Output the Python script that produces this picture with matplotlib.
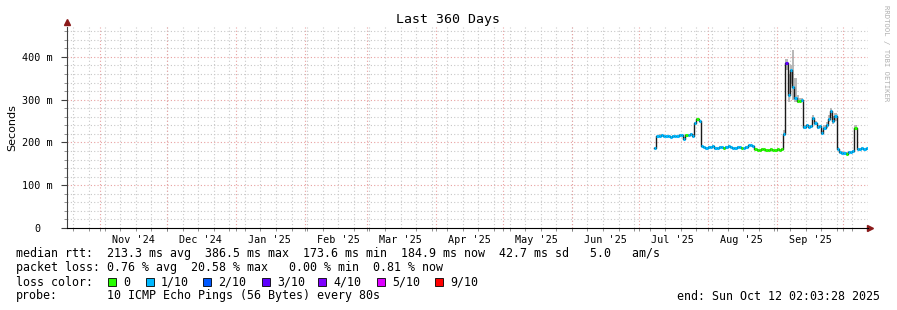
import datetime as dt
import matplotlib
matplotlib.use("Agg")
import matplotlib.pyplot as plt
import matplotlib.dates as mdates
from matplotlib.patches import Rectangle

# median rtt (ms), one value per day starting 2025-07-08
first_day = dt.datetime(2025, 7, 8)
rtt_median = [
    187, 214, 216, 218, 215, 214, 216, 212, 215, 216, 214, 217, 218, 209,   # Jul 8-21
    217, 218, 219, 216, 245, 255, 250, 192, 190, 188,                       # Jul 22-31
    190, 189, 191, 188, 187, 190, 189, 188, 190, 191, 189, 187, 188, 190,   # Aug 1-14
    189, 188, 186, 190, 193, 194, 191, 184, 183, 182, 184, 185, 183, 182,   # Aug 15-28
    184, 183, 182,                                                          # Aug 29-31
    184, 183, 185, 220, 385, 310, 370, 330, 305, 297, 298, 300, 236, 240,   # Sep 1-14
    237, 238, 258, 245, 236, 238, 222, 235, 240, 255, 273, 250, 262, 185,   # Sep 15-28
    178, 176,                                                               # Sep 29-30
    175, 174, 177, 178, 180, 234, 185, 184, 186, 185, 186,                  # Oct 1-11
]
rtt_max = [
    189, 216, 219, 220, 217, 216, 218, 215, 217, 218, 216, 219, 220, 212,
    219, 220, 221, 219, 249, 258, 253, 195, 192, 190,
    192, 191, 193, 190, 189, 192, 191, 190, 192, 193, 191, 189, 190, 192,
    191, 190, 188, 192, 195, 196, 193, 186, 185, 184, 186, 187, 185, 184,
    186, 185, 184,
    186, 185, 188, 228, 395, 360, 380, 416, 350, 310, 305, 304, 241, 244,
    241, 242, 264, 250, 240, 242, 226, 240, 248, 265, 280, 262, 270, 189,
    181, 179,
    178, 177, 180, 181, 183, 240, 188, 187, 189, 188, 189,
]
rtt_min = [
    185, 212, 214, 216, 213, 212, 214, 210, 213, 214, 212, 215, 216, 207,
    215, 216, 217, 214, 242, 250, 247, 190, 188, 186,
    188, 187, 189, 186, 185, 188, 187, 186, 188, 189, 187, 185, 186, 188,
    187, 186, 184, 188, 191, 192, 189, 182, 181, 180, 182, 183, 181, 180,
    182, 181, 180,
    182, 181, 183, 215, 370, 295, 340, 300, 295, 292, 294, 296, 232, 236,
    233, 234, 252, 240, 232, 234, 218, 230, 234, 248, 262, 243, 250, 182,
    175, 173,
    172, 171, 174, 175, 177, 228, 182, 181, 183, 182, 183,
]
# packet loss per day, in tenths
loss = [
    1, 1, 1, 1, 1, 1, 1, 1, 1, 1, 1, 1, 1, 1,
    0, 1, 1, 1, 1, 0, 1, 1, 1, 1,
    1, 1, 1, 1, 1, 1, 1, 0, 1, 1, 1, 1, 1, 1,
    1, 0, 1, 1, 1, 1, 1, 0, 0, 0, 0, 0, 0, 0,
    0, 0, 0,
    0, 0, 0, 1, 3, 1, 1, 1, 1, 0, 0, 1, 1, 1,
    1, 1, 1, 1, 1, 1, 1, 1, 1, 1, 1, 1, 1, 1,
    1, 1,
    1, 0, 1, 1, 1, 0, 1, 1, 1, 1, 1,
]

loss_labels = ["0", "1/10", "2/10", "3/10", "4/10", "5/10", "9/10"]
loss_colors = ["#26ff00", "#00b8ff", "#0059ff", "#5e00ff", "#7e00ff", "#dd00ff", "#ff0000"]
month_labels = ["Nov '24", "Dec '24", "Jan '25", "Feb '25", "Mar '25", "Apr '25",
                "May '25", "Jun '25", "Jul '25", "Aug '25", "Sep '25"]

start = dt.datetime(2024, 10, 17, 2, 3, 28)
end = dt.datetime(2025, 10, 12, 2, 3, 28)

mono = "DejaVu Sans Mono"

fig = plt.figure(figsize=(8.97, 3.10), dpi=100)
ax = fig.add_axes([67 / 897, (310 - 228) / 310, 801 / 897, 201 / 310])

# grid: weekly gray, monthly red, 20 ms gray, 100 ms red
week = dt.datetime(2024, 10, 20)
while week < end:
    ax.axvline(week, color="#c8c8c8", lw=0.8, ls=(0, (1, 2)), zorder=0)
    week += dt.timedelta(days=7)
months = [dt.datetime(2024 + (10 + k) // 12, (10 + k) % 12 + 1, 1) for k in range(12)]
for m in months:
    ax.axvline(m, color="#e8a0a0", lw=0.8, ls=(0, (1, 2)), zorder=0)
for v in range(20, 470, 20):
    if v % 100:
        ax.axhline(v, color="#c8c8c8", lw=0.8, ls=(0, (1, 2)), zorder=0)
    else:
        ax.axhline(v, color="#e8a0a0", lw=0.8, ls=(0, (1, 2)), zorder=0)

days = [first_day + dt.timedelta(days=i) for i in range(len(rtt_median) + 1)]
xd = mdates.date2num(days)

# smoke
ax.fill_between(xd[:-1], rtt_min, rtt_max, step="post", color="#b8b8b8", lw=0, zorder=1)
# median: black connectors, colored by loss
ax.step(xd[:-1], rtt_median, where="post", color="#1a1a1a", lw=1.0, zorder=2)
for i, v in enumerate(rtt_median):
    ax.hlines(v, xd[i], xd[i + 1], color=loss_colors[loss[i]], lw=2.2, zorder=3)

ax.set_xlim(start, end)
ax.set_ylim(0, 470)

ax.set_yticks(range(0, 500, 100))
ax.set_yticklabels(["0  "] + ["%d m" % v for v in range(100, 500, 100)],
                   family=mono, fontsize=7.3)
ax.set_yticks(range(0, 470, 20), minor=True)
ax.tick_params(axis="y", which="major", length=4, width=0.8, color="#404040", pad=6)
ax.tick_params(axis="y", which="minor", length=2, width=0.6, color="#808080")

mids = [dt.datetime(m.year, m.month, 16) for m in months[:-1]]
ax.set_xticks(mids)
ax.set_xticklabels(month_labels, family=mono, fontsize=7.3)
ax.tick_params(axis="x", which="major", length=0, pad=5)
ax.set_xticks(months + [dt.datetime(2024, 10, 20) + dt.timedelta(days=7 * k) for k in range(52)],
              minor=True)
ax.tick_params(axis="x", which="minor", length=2, width=0.6, color="#808080")

for s in ["top", "right"]:
    ax.spines[s].set_visible(False)
ax.spines["left"].set_color("#404040")
ax.spines["bottom"].set_color("black")
ax.spines["left"].set_zorder(4)
ax.spines["bottom"].set_zorder(4)

ax.plot([0], [1.025], marker="^", color="#8b1a1a", ms=5, transform=ax.transAxes, clip_on=False)
ax.plot([1.003], [0], marker=">", color="#8b1a1a", ms=5, transform=ax.transAxes, clip_on=False)

ax.set_ylabel("Seconds", fontsize=8, labelpad=10)
ax.yaxis.set_label_coords(-0.062, 0.5)
fig.text(448 / 897, 1 - 19 / 310, "Last 360 Days", family=mono, fontsize=9.5,
         ha="center", va="center")
fig.text(886 / 897, 1 - 5 / 310, "RRDTOOL / TOBI OETIKER", family=mono, fontsize=5.2,
         color="#b0b0b0", rotation=-90, ha="center", va="top")

# legend rows
def row(y_px, x_px, s, ha="left"):
    fig.text(x_px / 897, 1 - y_px / 310, s, family=mono, fontsize=8.4, ha=ha, va="center")

row(254, 16, "median rtt:  213.3 ms avg  386.5 ms max  173.6 ms min  184.9 ms now  42.7 ms sd   5.0   am/s")
row(268, 16, "packet loss: 0.76 % avg  20.58 % max   0.00 % min  0.81 % now")
row(282, 16, "loss color:")
box_x = [108, 146, 203, 262, 318, 377, 435]
for bx, lab, col in zip(box_x, loss_labels, loss_colors):
    fig.patches.append(Rectangle((bx / 897, 1 - 286 / 310), 8 / 897, 8 / 310,
                                 transform=fig.transFigure, facecolor=col,
                                 edgecolor="black", lw=0.6))
    row(282, bx + 15, lab)
row(296, 16, "probe:")
row(296, 107, "10 ICMP Echo Pings (56 Bytes) every 80s")
row(296, 880, "end: Sun Oct 12 02:03:28 2025", ha="right")

fig.savefig("out.png", dpi=100, facecolor="white")
